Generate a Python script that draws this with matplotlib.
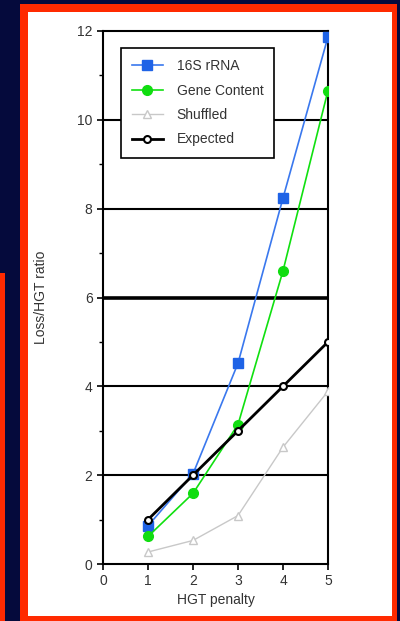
import matplotlib.pyplot as plt
from matplotlib.patches import Rectangle

plt.rcParams['font.family'] = ['Liberation Sans', 'DejaVu Sans']

# data
penalty = [1, 2, 3, 4, 5]
rrna_16s = [0.86, 2.03, 4.52, 8.24, 11.87]
gene_content = [0.62, 1.59, 3.14, 6.6, 10.66]
shuffled = [0.27, 0.53, 1.09, 2.63, 3.89]
expected = [1, 2, 3, 4, 5]
grid_levels = [2, 4, 6, 8, 10]

W, H = 400, 621
navy = '#050a3c'
red = '#ff2a00'
txt = '#333333'

fig = plt.figure(figsize=(W / 100, H / 100), dpi=100, facecolor=navy)

# slide decoration: red frame with white panel, red strip at left
def px_rect(x0, y0, x1, y1, color):
    fig.patches.append(Rectangle((x0 / W, 1 - y1 / H), (x1 - x0) / W, (y1 - y0) / H,
                                 transform=fig.transFigure, facecolor=color,
                                 edgecolor='none', zorder=-10))

px_rect(0, 273, 5, H, red)
px_rect(20, 4, 397, H, red)
px_rect(28, 12, 392, 616, 'white')

ax = fig.add_axes([103 / W, 1 - 564 / H, 225 / W, 533 / H])
ax.set_zorder(5)
ax.set_facecolor('white')

ax.plot(penalty, shuffled, color='#c8c8c8', lw=1, marker='^', ms=6,
        mfc='white', mec='#c8c8c8', label='Shuffled', zorder=3)
ax.plot(penalty, rrna_16s, color='#3a78ee', lw=1.2, marker='s', ms=7,
        mfc='#1f63e6', mec='#1f63e6', label='16S rRNA', zorder=4)
ax.plot(penalty, gene_content, color='#10e010', lw=1.2, marker='o', ms=7,
        mfc='#10dd10', mec='#10dd10', label='Gene Content', zorder=5)
ax.plot(penalty, expected, color='black', lw=2, marker='o', ms=5,
        mfc='white', mec='black', mew=1.5, label='Expected', zorder=6)

for g in grid_levels:
    ax.axhline(g, color='black', lw=2.6 if g == 6 else 1.5, zorder=2)

ax.set_xlim(0, 5)
ax.set_ylim(0, 12)
ax.set_xticks(range(0, 6))
ax.set_yticks(range(0, 13, 2))
ax.set_yticks(range(1, 12, 2), minor=True)
ax.tick_params(axis='both', which='major', length=4, width=1.2, colors='black',
               labelcolor=txt, labelsize=10)
ax.tick_params(axis='y', which='minor', length=3, width=1)
for s in ax.spines.values():
    s.set_linewidth(1.5)
    s.set_color('black')

ax.set_xlabel('HGT penalty', fontsize=10, color=txt, labelpad=3)
ax.set_ylabel('Loss/HGT ratio', fontsize=10, color=txt, labelpad=21)

handles, labels = ax.get_legend_handles_labels()
order = [1, 2, 0, 3]
leg = ax.legend([handles[i] for i in order], [labels[i] for i in order],
                loc='upper left', bbox_to_anchor=(0.08, 0.968), borderaxespad=0,
                fancybox=False, edgecolor='black', framealpha=1, fontsize=10,
                handlelength=2.2, labelspacing=0.75, borderpad=0.8,
                handletextpad=1.0)
leg.get_frame().set_linewidth(1.2)
for t in leg.get_texts():
    t.set_color(txt)

fig.savefig('out.png', dpi=100, facecolor=navy)
